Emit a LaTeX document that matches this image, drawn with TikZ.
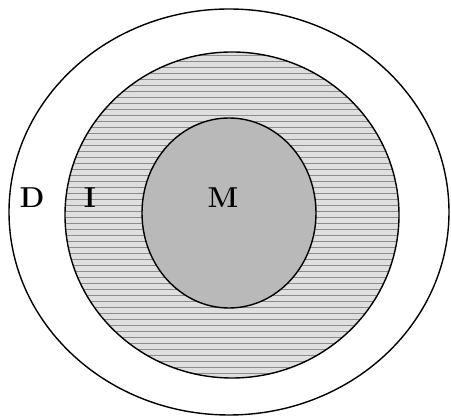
\documentclass[tikz,border=0pt]{standalone}
\usetikzlibrary{patterns}

\begin{document}
\begin{tikzpicture}[x=0.5pt, y=-0.5pt, every node/.style={font=\bfseries\Large,
  inner sep=0pt}, ring/.style={draw, line width=0.7pt}]
  \useasboundingbox (0,0) rectangle (451,416);
  % outer, middle and inner regions
  \draw[ring] (229,212) ellipse [x radius=220, y radius=203];
  \fill[gray!25] (232,215) ellipse [x radius=167, y radius=163];
  \fill[pattern=horizontal lines, pattern color=gray!90] (232,215) ellipse [x radius=167, y radius=163];
  \draw[ring] (232,215) ellipse [x radius=167, y radius=163];
  \draw[ring, fill=gray!55] (229,213) ellipse [x radius=87, y radius=95];
  \node (d) at (32,198) {D};
  \node (i) at (90,198) {I};
  \node (m) at (223,198) {M};
\end{tikzpicture}
\end{document}
